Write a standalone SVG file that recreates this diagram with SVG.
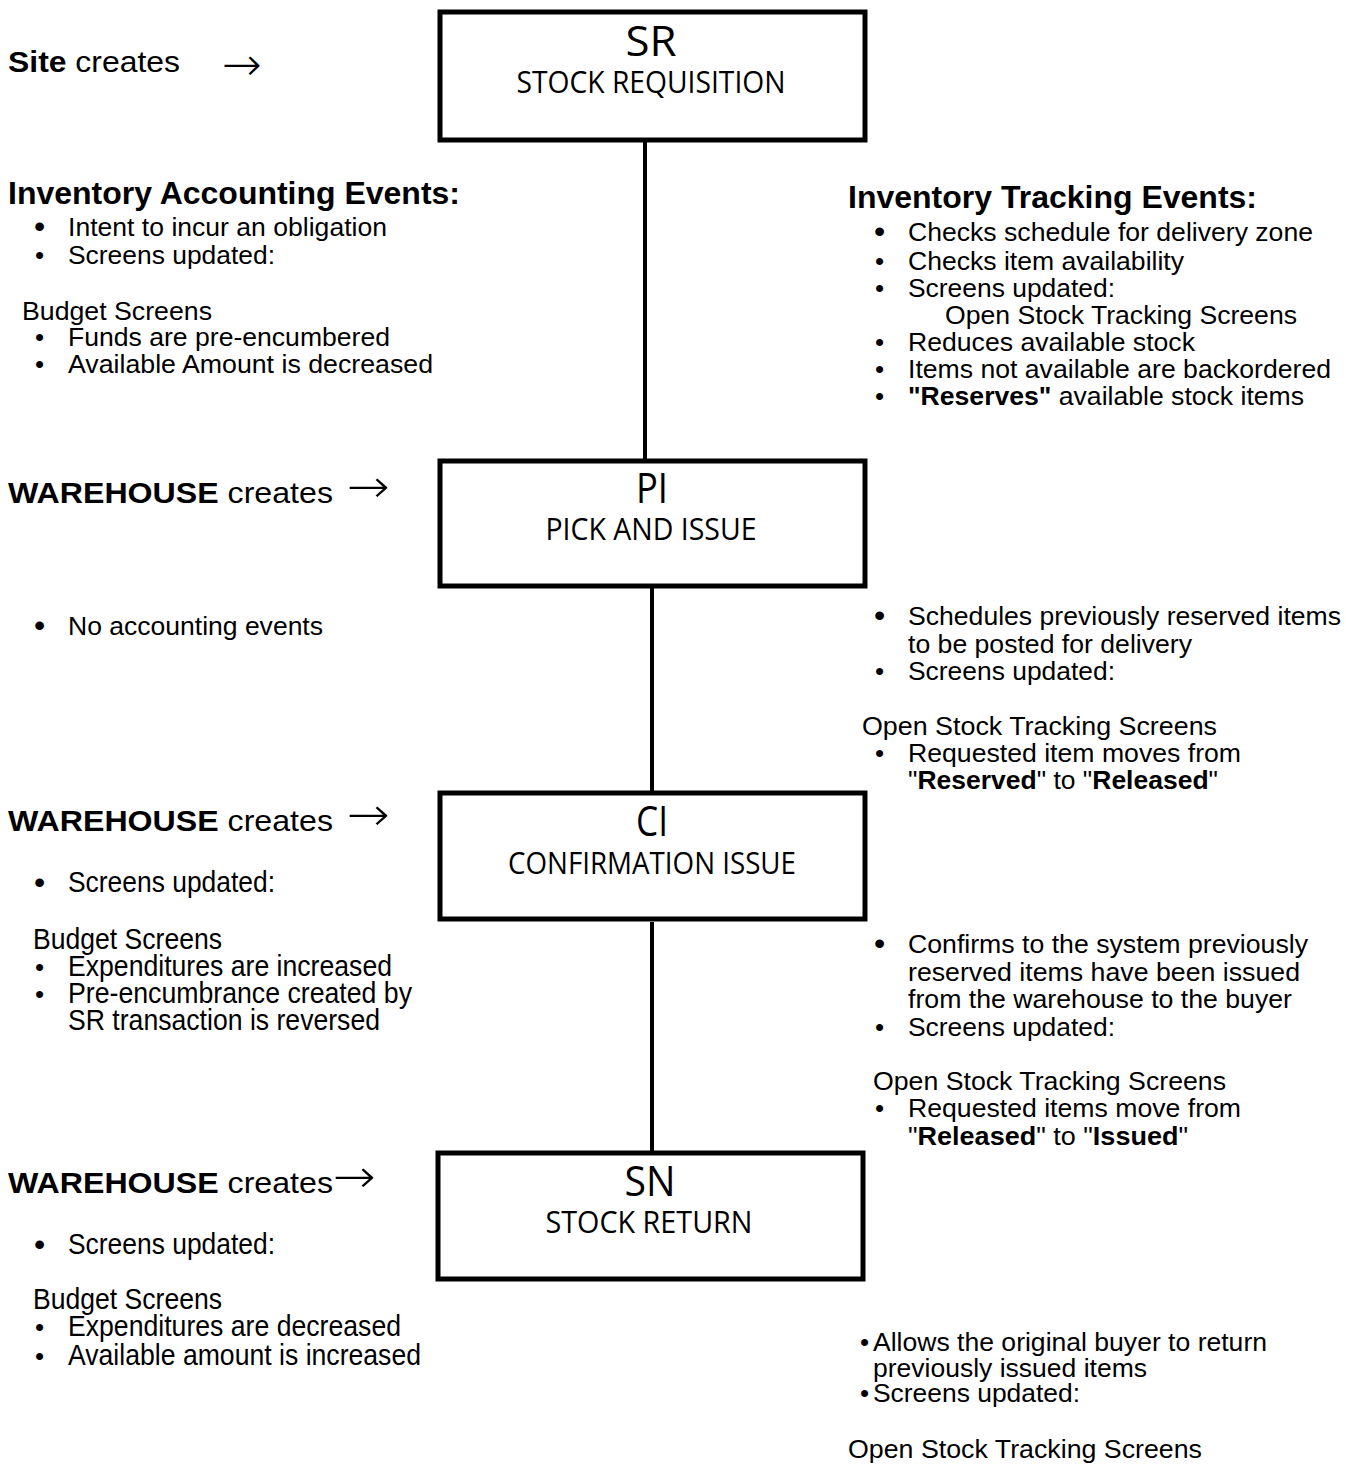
<svg xmlns="http://www.w3.org/2000/svg" width="1346" height="1472" viewBox="0 0 1346 1472">
<style>
text{fill:#000}
.t{font-family:"Liberation Sans",Arial,sans-serif;font-size:26.5px}
.n{font-family:"Liberation Sans Narrow","Liberation Sans",Arial,sans-serif;font-size:29px}
.h{font-family:"Liberation Sans",Arial,sans-serif;font-size:31px;font-weight:bold}
.b{font-weight:bold}
.bul{font-family:"Liberation Sans",Arial,sans-serif;font-size:26px}
.bb{font-family:"Liberation Sans",Arial,sans-serif;font-size:32px}
.ar{font-family:"DejaVu Sans ExtraLight","DejaVu Sans",sans-serif;font-weight:200;font-size:46px}
.code{font-family:"Open Sans",sans-serif;font-size:42px;text-anchor:middle}
.name{font-family:"Open Sans",sans-serif;font-size:31px;text-anchor:middle}
.box{fill:#fff;stroke:#000;stroke-width:5}
.conn{stroke:#000;stroke-width:4;fill:none}
</style>
<rect width="1346" height="1472" fill="#fff"/>
<g id="connectors">
<line class="conn" x1="645" y1="142" x2="645" y2="459"/>
<line class="conn" x1="652" y1="588" x2="652" y2="791"/>
<line class="conn" x1="652" y1="922" x2="652" y2="1151"/>
</g>
<g id="node-SR">
<rect class="box" x="440" y="12" width="425" height="128"/>
<text class="code" x="651" y="56" textLength="51" lengthAdjust="spacingAndGlyphs">SR</text>
<text class="name" x="651" y="93" textLength="269" lengthAdjust="spacingAndGlyphs">STOCK REQUISITION</text>
</g>
<g id="node-PI">
<rect class="box" x="440" y="461" width="425" height="125"/>
<text class="code" x="652" y="503" textLength="32" lengthAdjust="spacingAndGlyphs">PI</text>
<text class="name" x="651" y="540" textLength="211" lengthAdjust="spacingAndGlyphs">PICK AND ISSUE</text>
</g>
<g id="node-CI">
<rect class="box" x="440" y="793" width="425" height="126"/>
<text class="code" x="652" y="836" textLength="32" lengthAdjust="spacingAndGlyphs">CI</text>
<text class="name" x="652" y="874" textLength="288" lengthAdjust="spacingAndGlyphs">CONFIRMATION ISSUE</text>
</g>
<g id="node-SN">
<rect class="box" x="438" y="1153" width="425" height="126"/>
<text class="code" x="650" y="1196" textLength="51" lengthAdjust="spacingAndGlyphs">SN</text>
<text class="name" x="649" y="1233" textLength="207" lengthAdjust="spacingAndGlyphs">STOCK RETURN</text>
</g>
<g id="creators">
<text class="n" x="8" y="72" textLength="172" lengthAdjust="spacingAndGlyphs"><tspan class="b">Site</tspan> creates</text>
<text class="ar" x="222" y="80" textLength="40" lengthAdjust="spacingAndGlyphs">→</text>
<text class="n" x="8" y="503" textLength="325" lengthAdjust="spacingAndGlyphs"><tspan class="b">WAREHOUSE</tspan> creates</text>
<text class="ar" x="347" y="502" textLength="43" lengthAdjust="spacingAndGlyphs">→</text>
<text class="n" x="8" y="831" textLength="325" lengthAdjust="spacingAndGlyphs"><tspan class="b">WAREHOUSE</tspan> creates</text>
<text class="ar" x="347" y="830" textLength="43" lengthAdjust="spacingAndGlyphs">→</text>
<text class="n" x="8" y="1193" textLength="325" lengthAdjust="spacingAndGlyphs"><tspan class="b">WAREHOUSE</tspan> creates</text>
<text class="ar" x="333" y="1192" textLength="43" lengthAdjust="spacingAndGlyphs">→</text>
</g>
<g id="accounting-SR">
<text class="h" x="8" y="204" textLength="452" lengthAdjust="spacingAndGlyphs">Inventory Accounting Events:</text>
<text class="bb" x="34" y="237">•</text>
<text class="t" x="68" y="236" textLength="319" lengthAdjust="spacingAndGlyphs">Intent to incur an obligation</text>
<text class="bul" x="35" y="264">•</text>
<text class="t" x="68" y="264" textLength="207" lengthAdjust="spacingAndGlyphs">Screens updated:</text>
<text class="t" x="22" y="320" textLength="190" lengthAdjust="spacingAndGlyphs">Budget Screens</text>
<text class="bul" x="35" y="346">•</text>
<text class="t" x="68" y="346" textLength="322" lengthAdjust="spacingAndGlyphs">Funds are pre-encumbered</text>
<text class="bul" x="35" y="373">•</text>
<text class="t" x="68" y="373" textLength="365" lengthAdjust="spacingAndGlyphs">Available Amount is decreased</text>
</g>
<g id="tracking-SR">
<text class="h" x="848" y="208" textLength="409" lengthAdjust="spacingAndGlyphs">Inventory Tracking Events:</text>
<text class="bb" x="874" y="242">•</text>
<text class="t" x="908" y="241" textLength="405" lengthAdjust="spacingAndGlyphs">Checks schedule for delivery zone</text>
<text class="bul" x="875" y="270">•</text>
<text class="t" x="908" y="270" textLength="276" lengthAdjust="spacingAndGlyphs">Checks item availability</text>
<text class="bul" x="875" y="297">•</text>
<text class="t" x="908" y="297" textLength="207" lengthAdjust="spacingAndGlyphs">Screens updated:</text>
<text class="t" x="945" y="324" textLength="352" lengthAdjust="spacingAndGlyphs">Open Stock Tracking Screens</text>
<text class="bul" x="875" y="351">•</text>
<text class="t" x="908" y="351" textLength="287" lengthAdjust="spacingAndGlyphs">Reduces available stock</text>
<text class="bul" x="875" y="378">•</text>
<text class="t" x="908" y="378" textLength="423" lengthAdjust="spacingAndGlyphs">Items not available are backordered</text>
<text class="bul" x="875" y="405">•</text>
<text class="t" x="908" y="405" textLength="396" lengthAdjust="spacingAndGlyphs"><tspan class="b">"Reserves"</tspan> available stock items</text>
</g>
<g id="accounting-PI">
<text class="bb" x="34" y="636">•</text>
<text class="t" x="68" y="635" textLength="255" lengthAdjust="spacingAndGlyphs">No accounting events</text>
</g>
<g id="tracking-PI">
<text class="bb" x="874" y="626">•</text>
<text class="t" x="908" y="625" textLength="433" lengthAdjust="spacingAndGlyphs">Schedules previously reserved items</text>
<text class="t" x="908" y="653" textLength="284" lengthAdjust="spacingAndGlyphs">to be posted for delivery</text>
<text class="bul" x="875" y="680">•</text>
<text class="t" x="908" y="680" textLength="207" lengthAdjust="spacingAndGlyphs">Screens updated:</text>
<text class="t" x="862" y="735" textLength="355" lengthAdjust="spacingAndGlyphs">Open Stock Tracking Screens</text>
<text class="bul" x="875" y="762">•</text>
<text class="t" x="908" y="762" textLength="333" lengthAdjust="spacingAndGlyphs">Requested item moves from</text>
<text class="t" x="908" y="789" textLength="310" lengthAdjust="spacingAndGlyphs">"<tspan class="b">Reserved</tspan>" to "<tspan class="b">Released</tspan>"</text>
</g>
<g id="accounting-CI">
<text class="bb" x="34" y="893">•</text>
<text class="n" x="68" y="892" textLength="207" lengthAdjust="spacingAndGlyphs">Screens updated:</text>
<text class="n" x="33" y="949" textLength="189" lengthAdjust="spacingAndGlyphs">Budget Screens</text>
<text class="bul" x="35" y="976">•</text>
<text class="n" x="68" y="976" textLength="324" lengthAdjust="spacingAndGlyphs">Expenditures are increased</text>
<text class="bul" x="35" y="1003">•</text>
<text class="n" x="68" y="1003" textLength="344" lengthAdjust="spacingAndGlyphs">Pre-encumbrance created by</text>
<text class="n" x="68" y="1030" textLength="312" lengthAdjust="spacingAndGlyphs">SR transaction is reversed</text>
</g>
<g id="tracking-CI">
<text class="bb" x="874" y="954">•</text>
<text class="t" x="908" y="953" textLength="400" lengthAdjust="spacingAndGlyphs">Confirms to the system previously</text>
<text class="t" x="908" y="981" textLength="392" lengthAdjust="spacingAndGlyphs">reserved items have been issued</text>
<text class="t" x="908" y="1008" textLength="384" lengthAdjust="spacingAndGlyphs">from the warehouse to the buyer</text>
<text class="bul" x="875" y="1036">•</text>
<text class="t" x="908" y="1036" textLength="207" lengthAdjust="spacingAndGlyphs">Screens updated:</text>
<text class="t" x="873" y="1090" textLength="353" lengthAdjust="spacingAndGlyphs">Open Stock Tracking Screens</text>
<text class="bul" x="875" y="1117">•</text>
<text class="t" x="908" y="1117" textLength="333" lengthAdjust="spacingAndGlyphs">Requested items move from</text>
<text class="t" x="908" y="1145" textLength="280" lengthAdjust="spacingAndGlyphs">"<tspan class="b">Released</tspan>" to "<tspan class="b">Issued</tspan>"</text>
</g>
<g id="accounting-SN">
<text class="bb" x="34" y="1255">•</text>
<text class="n" x="68" y="1254" textLength="207" lengthAdjust="spacingAndGlyphs">Screens updated:</text>
<text class="n" x="33" y="1309" textLength="189" lengthAdjust="spacingAndGlyphs">Budget Screens</text>
<text class="bul" x="35" y="1336">•</text>
<text class="n" x="68" y="1336" textLength="333" lengthAdjust="spacingAndGlyphs">Expenditures are decreased</text>
<text class="bul" x="35" y="1365">•</text>
<text class="n" x="68" y="1365" textLength="353" lengthAdjust="spacingAndGlyphs">Available amount is increased</text>
</g>
<g id="tracking-SN">
<text class="bul" x="860" y="1351">•</text>
<text class="t" x="873" y="1351" textLength="394" lengthAdjust="spacingAndGlyphs">Allows the original buyer to return</text>
<text class="t" x="873" y="1377" textLength="274" lengthAdjust="spacingAndGlyphs">previously issued items</text>
<text class="bul" x="860" y="1402">•</text>
<text class="t" x="873" y="1402" textLength="207" lengthAdjust="spacingAndGlyphs">Screens updated:</text>
<text class="t" x="848" y="1458" textLength="354" lengthAdjust="spacingAndGlyphs">Open Stock Tracking Screens</text>
</g>
</svg>
